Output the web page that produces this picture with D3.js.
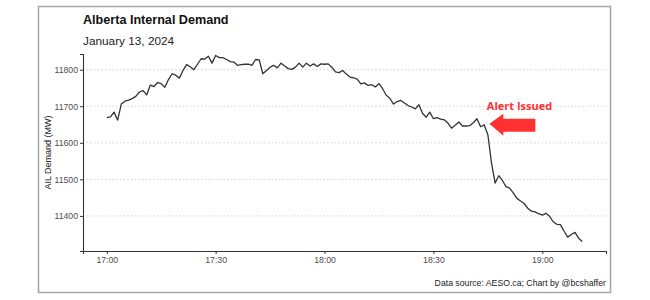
<!DOCTYPE html>
<html>
<head>
<meta charset="utf-8">
<script src="https://cdn.jsdelivr.net/npm/d3@7"></script>
<style>
  body { margin: 0; background: #fff; }
  text { font-family: "Liberation Sans", Arial, sans-serif; }
</style>
</head>
<body>
<div id="chart"></div>
<script>
// one reading per minute, starting at 17:00
var startTime = "17:00";
var demand = [
  11669, 11671, 11684, 11662, 11706, 11714, 11717, 11721, 11727, 11739,
  11743, 11731, 11758, 11754, 11765, 11762, 11752, 11773, 11789, 11785,
  11777, 11798, 11814, 11808, 11800, 11815, 11830, 11829, 11837, 11818,
  11839, 11833, 11833, 11828, 11822, 11821, 11812, 11814, 11815, 11815,
  11812, 11828, 11827, 11789, 11798, 11807, 11812, 11805, 11818, 11810,
  11803, 11801, 11807, 11818, 11807, 11818, 11810, 11816, 11809, 11816,
  11815, 11816, 11807, 11794, 11792, 11798, 11788, 11780, 11778, 11774,
  11761, 11764, 11757, 11759, 11753, 11762, 11748, 11730, 11722, 11706,
  11713, 11716, 11709, 11702, 11698, 11693, 11704, 11681, 11670, 11684,
  11666, 11669, 11665, 11663, 11654, 11640, 11648, 11657, 11646, 11646,
  11647, 11655, 11666, 11644, 11649, 11622, 11545, 11490, 11510, 11497,
  11480, 11476, 11463, 11448, 11441, 11434, 11421, 11413, 11411, 11406,
  11402, 11407, 11399, 11384, 11377, 11376, 11358, 11342, 11349, 11355,
  11339, 11330
];
var xTickLabels = ["17:00", "17:30", "18:00", "18:30", "19:00"];
var yTicks = [11400, 11500, 11600, 11700, 11800];
var alertTime = "18:45";
var alertLevel = 11652;

var w = 650, h = 300;
var margin = {left: 83, right: 44, top: 54, bottom: 49};

var parse = d3.timeParse("%Y-%m-%d %H:%M");
var t0 = parse("2024-01-13 " + startTime);
var points = demand.map(function(v, i) {
  return {t: d3.timeMinute.offset(t0, i), v: v};
});

var svg = d3.select("#chart").append("svg")
  .attr("width", w)
  .attr("height", h);

// picture frame
svg.append("rect")
  .attr("x", 38.5).attr("y", 6.5)
  .attr("width", 572).attr("height", 286)
  .attr("fill", "none")
  .attr("stroke", "#a5a5a5")
  .attr("stroke-width", 1.5);

// ggplot-style 5% expansion
var tExt = d3.extent(points, function(d) { return d.t; });
var span = tExt[1] - tExt[0];
var x = d3.scaleTime()
  .domain([new Date(+tExt[0] - span * 0.05), new Date(+tExt[1] + span * 0.05)])
  .range([margin.left, w - margin.right]);

var y = d3.scaleLinear()
  .domain([11304, 11843])
  .range([h - margin.bottom, margin.top]);

// dotted grid
svg.append("g").selectAll("line")
  .data(yTicks)
  .enter().append("line")
  .attr("x1", margin.left).attr("x2", w - margin.right)
  .attr("y1", function(d) { return y(d); })
  .attr("y2", function(d) { return y(d); })
  .attr("stroke", "#c8c8c8")
  .attr("stroke-width", 1)
  .attr("stroke-dasharray", "1.2,2.5");

var xTicks = xTickLabels.map(function(s) { return parse("2024-01-13 " + s); });

var xAxis = svg.append("g")
  .attr("transform", "translate(0," + (h - margin.bottom) + ")")
  .call(d3.axisBottom(x).tickValues(xTicks).tickFormat(d3.timeFormat("%H:%M"))
    .tickSizeOuter(0).tickSize(3).tickPadding(3));

var yAxis = svg.append("g")
  .attr("transform", "translate(" + margin.left + ",0)")
  .call(d3.axisLeft(y).tickValues(yTicks).tickFormat(d3.format("d"))
    .tickSizeOuter(0).tickSize(3).tickPadding(2));

[xAxis, yAxis].forEach(function(g) {
  g.select(".domain").attr("stroke", "#333").attr("stroke-width", 1.1);
  g.selectAll(".tick line").attr("stroke", "#333");
  g.selectAll(".tick text")
    .attr("fill", "#4d4d4d")
    .style("font-size", "8.7px")
    .style("font-family", "'Liberation Sans', Arial, sans-serif");
});

svg.append("text")
  .attr("transform", "translate(51," + ((margin.top + h - margin.bottom) / 2) + ") rotate(-90)")
  .attr("text-anchor", "middle")
  .attr("fill", "#222")
  .style("font-size", "9px")
  .text("AIL Demand (MW)");

// the demand line
var line = d3.line()
  .x(function(d) { return x(d.t); })
  .y(function(d) { return y(d.v); });

svg.append("path")
  .datum(points)
  .attr("d", line)
  .attr("fill", "none")
  .attr("stroke", "#333")
  .attr("stroke-width", 1.3)
  .attr("stroke-linejoin", "round");

// titles
svg.append("text")
  .attr("x", 83).attr("y", 23.6)
  .attr("fill", "#111")
  .style("font-size", "12.6px")
  .style("font-weight", "bold")
  .text("Alberta Internal Demand");

svg.append("text")
  .attr("x", 83).attr("y", 45)
  .attr("fill", "#222")
  .style("font-size", "11.8px")
  .text("January 13, 2024");

svg.append("text")
  .attr("x", w - margin.right).attr("y", 286)
  .attr("text-anchor", "end")
  .attr("fill", "#222")
  .style("font-size", "8.7px")
  .text("Data source: AESO.ca; Chart by @bcshaffer");

// alert annotation: red block arrow pointing at the drop
var tipX = x(parse("2024-01-13 " + alertTime)) + 1.5,
    tipY = y(alertLevel);
var arrow = [
  [tipX, tipY],
  [tipX + 14, tipY - 10],
  [tipX + 14, tipY - 5],
  [tipX + 46, tipY - 5],
  [tipX + 46, tipY + 8],
  [tipX + 14, tipY + 8],
  [tipX + 14, tipY + 12]
];
svg.append("path")
  .attr("d", d3.line()(arrow) + "Z")
  .attr("fill", "#ff3131");

svg.append("text")
  .attr("x", tipX - 2.5).attr("y", 109.5)
  .attr("fill", "#ff3131")
  .style("font-family", "'Open Sans', sans-serif")
  .style("font-size", "11px")
  .style("font-weight", "700")
  .text("Alert Issued");
</script>
</body>
</html>
